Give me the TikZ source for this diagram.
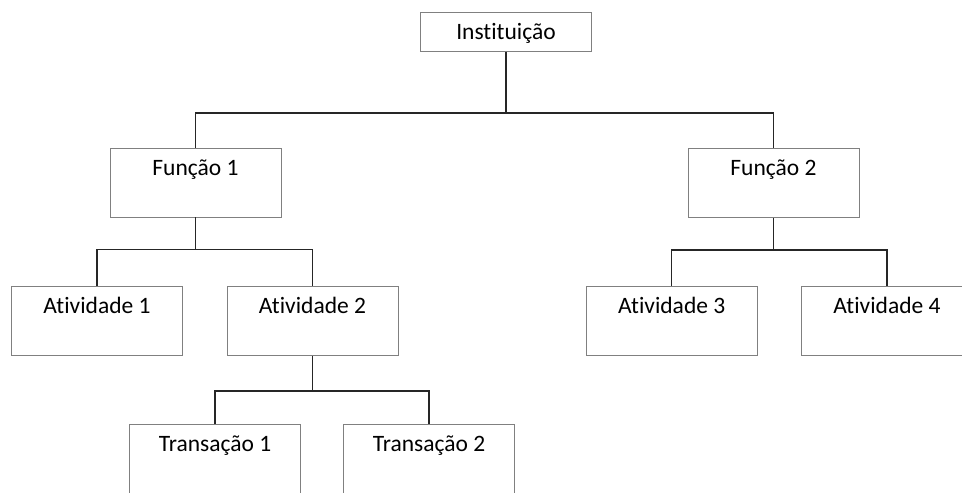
\documentclass[tikz,border=0pt]{standalone}
\usepackage{fontspec}
\setmainfont{Carlito}[Ligatures={NoCommon,NoContextual}]
\usepackage{tikz}
\usetikzlibrary{positioning}

\begin{document}
\begin{tikzpicture}[x=1pt,y=-1pt]
          %% ORGANOGRAMA
          \tikzstyle{every node}=[font=\fontsize{23.5}{28}\selectfont,text=black]
          \tikzstyle{caixa}=[draw=black!50,line width=0.9pt,inner sep=0pt,minimum width=171pt,text height=27pt,text depth=42pt]
          \tikzstyle{ligacao}=[draw=black!85,line width=1.3pt]
          \useasboundingbox (0,0) rectangle (962,493);

          % topo
          \node[caixa,text depth=12pt] (inst) at (506,31.7) {Instituição};

          % funcoes
          \node[caixa] (f1) at (195.5,182.5) {Função 1};
          \node[caixa] (f2) at (773.5,183) {Função 2};

          % atividades
          \node[caixa] (a1) at (97,321) {Atividade 1};
          \node[caixa] (a2) at (312.5,321) {Atividade 2};
          \node[caixa] (a3) at (671.7,320.5) {Atividade 3};
          \node[caixa] (a4) at (887,321) {Atividade 4};

          % transacoes
          \node[caixa] (t1) at (215,459) {Transação 1};
          \node[caixa] (t2) at (429,459) {Transação 2};

          % ligacoes
          \coordinate (b0) at (506,113);
          \coordinate (b1) at (195.5,249.5);
          \coordinate (b2) at (773.5,250);
          \coordinate (b3) at (312.5,391);
          \path[ligacao] (inst) -- (b0)
          (f1.north) |- (b0) -| (f2.north)
          (f1) -- (b1)
          (a1.north) |- (b1) -| (a2.north)
          (f2) -- (b2)
          (a3.north) |- (b2) -| (a4.north)
          (a2) -- (b3)
          (t1.north) |- (b3) -| (t2.north);
        \end{tikzpicture}
\end{document}
